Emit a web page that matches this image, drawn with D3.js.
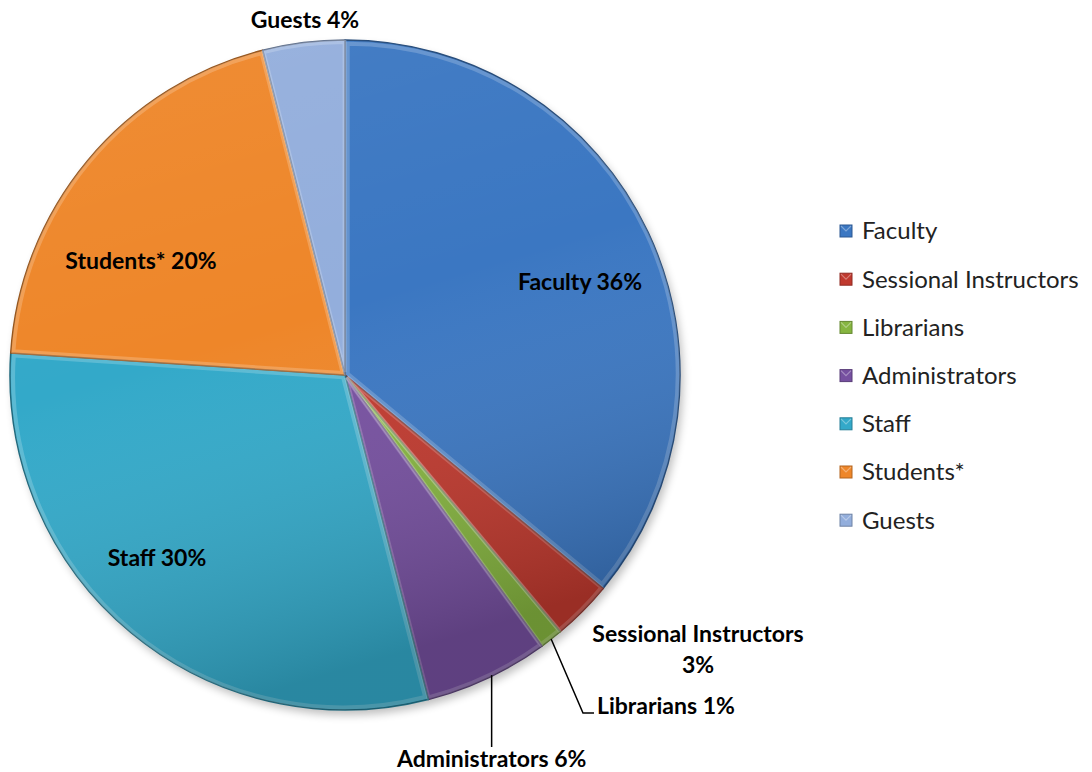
<!DOCTYPE html>
<html>
<head>
<meta charset="utf-8">
<script src="https://cdn.jsdelivr.net/npm/d3@7"></script>
<style>
  body { margin: 0; background: #fff; }
  svg { display: block; }
</style>
</head>
<body>
<script>
// data
const categories = ['Faculty', 'Sessional Instructors', 'Librarians', 'Administrators', 'Staff', 'Students*', 'Guests'];
const values = [36, 2.9, 1.1, 6.0, 30.05, 20.0, 3.95];
const colors = ['#3b77c2', '#c0392e', '#86b540', '#7650a0', '#33a9c9', '#ee8629', '#93aedc'];

const w = 1092, h = 772;
const cx = 345, cy = 375, r = 335;

const svg = d3.select('body').append('svg')
  .attr('width', w)
  .attr('height', h);

const defs = svg.append('defs');

// shading over the whole pie, lighter on top, darker at the bottom
let shade = defs.append('linearGradient')
  .attr('id', 'shade')
  .attr('x1', 0).attr('y1', 0).attr('x2', 0.3).attr('y2', 1);
shade.append('stop').attr('offset', '0%').attr('stop-color', '#fff').attr('stop-opacity', 0.06);
shade.append('stop').attr('offset', '50%').attr('stop-color', '#fff').attr('stop-opacity', 0);
shade.append('stop').attr('offset', '100%').attr('stop-color', '#000').attr('stop-opacity', 0.2);

let blur = defs.append('filter').attr('id', 'drop').attr('x', '-10%').attr('y', '-10%').attr('width', '120%').attr('height', '120%');
blur.append('feGaussianBlur').attr('stdDeviation', 4);

let total = d3.sum(values);
let pie = d3.pie().sort(null).value(d => d);
let arcs = pie(values);

let arc = d3.arc().innerRadius(0).outerRadius(r);
let edge = d3.arc().innerRadius(r).outerRadius(r);

let g = svg.append('g').attr('transform', 'translate(' + cx + ',' + cy + ')');

// soft shadow
g.append('circle')
  .attr('cx', 3).attr('cy', 5).attr('r', r)
  .attr('fill', '#000').attr('opacity', 0.25)
  .attr('filter', 'url(#drop)');

g.selectAll('path.slice')
  .data(arcs)
  .enter()
  .append('path')
  .attr('class', 'slice')
  .attr('d', arc)
  .attr('fill', (d, i) => colors[i])
  .attr('stroke', (d, i) => d3.color(colors[i]).darker(1.3))
  .attr('stroke-width', 1.5)
  .attr('stroke-linejoin', 'round');

// bevel highlight inside each slice
let inner = d3.arc().innerRadius(0).outerRadius(r - 5);
g.selectAll('path.bevel')
  .data(arcs)
  .enter()
  .append('path')
  .attr('class', 'bevel')
  .attr('d', inner)
  .attr('fill', 'none')
  .attr('stroke', '#fff')
  .attr('stroke-opacity', 0.2)
  .attr('stroke-width', 4)
  .attr('transform', d => {
    let a = (d.startAngle + d.endAngle) / 2;
    return 'translate(' + (Math.sin(a) * 3) + ',' + (-Math.cos(a) * 3) + ')';
  });

g.append('circle')
  .attr('r', r)
  .attr('fill', 'url(#shade)')
  .attr('pointer-events', 'none');

// labels
let labelText = (i) => categories[i] + ' ' + Math.round(values[i] / total * 100) + '%';
let labelPos = {
  'Faculty': [580, 282],
  'Staff': [157, 558],
  'Students*': [141, 261],
  'Guests': [305, 20]
};

let labels = svg.append('g')
  .attr('font-family', 'Lato, "Open Sans", sans-serif')
  .attr('font-weight', 700)
  .attr('font-size', 23)
  .attr('fill', '#000')
  .attr('text-anchor', 'middle');

categories.forEach((c, i) => {
  if (labelPos[c]) {
    labels.append('text')
      .attr('x', labelPos[c][0])
      .attr('y', labelPos[c][1])
      .attr('dy', '0.35em')
      .text(labelText(i));
  }
});

// Sessional instructors: two lines
let sess = labels.append('text').attr('x', 698).attr('y', 634);
sess.append('tspan').attr('x', 698).attr('dy', '0.35em').text(categories[1]);
sess.append('tspan').attr('x', 698).attr('dy', 31).text(Math.round(values[1] / total * 100) + '%');

// leader lines for the thin slices
let libEdge = edge.centroid(arcs[2]);
let libX = cx + libEdge[0], libY = cy + libEdge[1];
svg.append('path')
  .attr('d', 'M' + libX + ',' + libY + 'L583,713L594,713')
  .attr('fill', 'none').attr('stroke', '#000').attr('stroke-width', 1.5);
labels.append('text')
  .attr('x', 597).attr('y', 706).attr('dy', '0.35em')
  .attr('text-anchor', 'start')
  .text(labelText(2));

let admEdge = edge.centroid(arcs[3]);
let admX = cx + admEdge[0] + 4, admY = cy + admEdge[1] - 3;
svg.append('path')
  .attr('d', 'M' + admX + ',' + admY + 'L' + admX + ',747')
  .attr('fill', 'none').attr('stroke', '#000').attr('stroke-width', 1.5);
labels.append('text')
  .attr('x', admX).attr('y', 759).attr('dy', '0.35em')
  .text(labelText(3));

// legend
let legend = svg.append('g')
  .attr('transform', 'translate(840,231)');

let rowH = 48.2;
let items = legend.selectAll('g')
  .data(categories)
  .enter()
  .append('g')
  .attr('transform', (d, i) => 'translate(0,' + (i * rowH) + ')');

items.append('rect')
  .attr('x', 0).attr('y', -6)
  .attr('width', 12).attr('height', 12)
  .attr('fill', (d, i) => colors[i])
  .attr('stroke', (d, i) => d3.color(colors[i]).darker(0.8))
  .attr('stroke-width', 1);

items.append('path')
  .attr('d', 'M1,-5L6,0L11,-5')
  .attr('fill', 'none')
  .attr('stroke', '#fff')
  .attr('stroke-opacity', 0.35)
  .attr('stroke-width', 1.2);

items.append('text')
  .attr('x', 22)
  .attr('dy', '0.35em')
  .attr('font-family', 'Lato, "Open Sans", sans-serif')
  .attr('font-size', 24)
  .attr('fill', '#222')
  .text(d => d);
</script>
</body>
</html>
